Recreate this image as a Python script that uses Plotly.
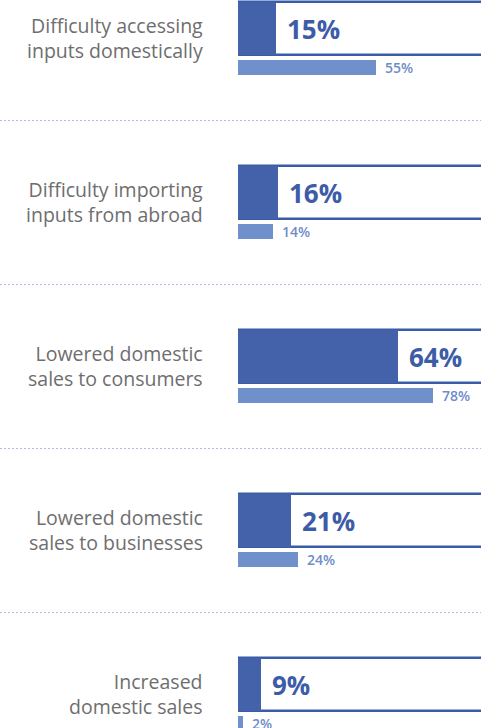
import plotly.graph_objects as go

categories = [
    "Difficulty accessing<br>inputs domestically",
    "Difficulty importing<br>inputs from abroad",
    "Lowered domestic<br>sales to consumers",
    "Lowered domestic<br>sales to businesses",
    "Increased<br>domestic sales",
]
main_values = [15, 16, 64, 21, 9]
compare_values = [55, 14, 78, 24, 2]
box_full = 100

DARK = "#4462AA"
BORDER = "#3A5BA8"
LIGHT = "#7090CB"

n = len(categories)
idx = list(range(n))
big_off, big_w = -0.061, 0.323
small_off, small_w = 0.177, 0.092

fig = go.Figure()
fig.add_trace(go.Bar(
    y=[i + big_off for i in idx], x=[box_full] * n, width=big_w, orientation="h",
    marker=dict(color="white", line=dict(color=BORDER, width=2.6)),
    hoverinfo="skip", showlegend=False,
))
fig.add_trace(go.Bar(
    y=[i + big_off for i in idx], x=main_values, width=big_w, orientation="h",
    marker=dict(color=DARK, line=dict(width=0)), showlegend=False,
))
fig.add_trace(go.Bar(
    y=[i + small_off for i in idx], x=compare_values, width=small_w, orientation="h",
    marker=dict(color=LIGHT, line=dict(width=0)), showlegend=False,
))

annotations = []
for i, (c, v, w) in enumerate(zip(categories, main_values, compare_values)):
    annotations.append(dict(
        x=0, y=i, xref="x domain", yref="y", text=c, showarrow=False,
        xanchor="right", yanchor="middle", xshift=-33, yshift=1, align="right",
        font=dict(family="Open Sans", size=19.5, color="#6e6e6e"),
    ))
    annotations.append(dict(
        x=v, y=i + big_off, xref="x", yref="y", text=f"{v}%", showarrow=False,
        xanchor="left", yanchor="middle", xshift=9,
        font=dict(family="Open Sans", size=26, color="#3D5CA8", weight=700),
    ))
    annotations.append(dict(
        x=w, y=i + small_off, xref="x", yref="y", text=f"{w}%", showarrow=False,
        xanchor="left", yanchor="middle", xshift=7,
        font=dict(family="Open Sans", size=14, color="#6F8CC9", weight=600),
    ))

shapes = []
for i in range(n - 1):
    shapes.append(dict(
        type="line", xref="paper", yref="y", x0=0, x1=1, y0=i + 0.5, y1=i + 0.5,
        line=dict(color="#B3BBE0", width=1, dash="2px,2px"), layer="below",
    ))

fig.update_layout(
    width=481, height=728,
    margin=dict(l=0, r=0, t=0, b=0),
    paper_bgcolor="white", plot_bgcolor="white",
    barmode="overlay", bargap=0,
    xaxis=dict(domain=[238 / 481, 1], range=[0, 97.2], visible=False, fixedrange=True),
    yaxis=dict(range=[(728 - 38.5) / 164, -38.5 / 164], visible=False, fixedrange=True),
    annotations=annotations, shapes=shapes,
    showlegend=False,
)

fig.write_html(
    "out.html",
    config={"displayModeBar": False},
    post_script="document.body.style.margin='0';document.body.style.overflow='hidden';",
)
